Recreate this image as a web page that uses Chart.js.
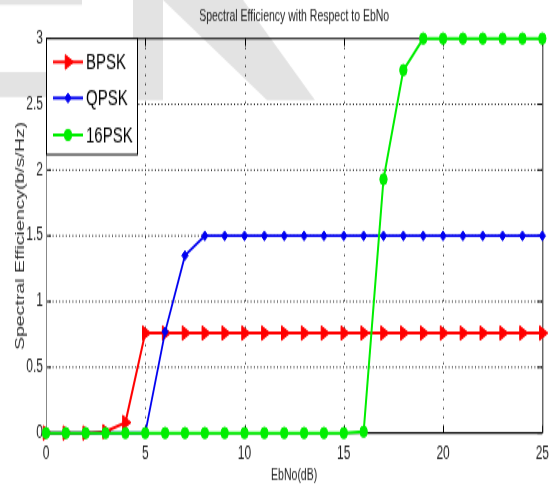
<!DOCTYPE html>
<html><head><meta charset="utf-8">
<script src="https://cdn.jsdelivr.net/npm/chart.js@4.4.0/dist/chart.umd.min.js"></script>
<style>
html,body{margin:0;padding:0;background:#fff;overflow:hidden;width:556px;height:486px}
#wrap{width:556px;height:486px;position:relative;overflow:hidden;background:#fff}
canvas{position:absolute;left:0;top:0;width:556px;height:324px;transform:scaleY(1.5);transform-origin:0 0}
</style></head><body><div id="wrap"><canvas id="c" width="556" height="324"></canvas></div>
<script>
// ---- data ----
const ebno   = [0,1,2,3,4,5,6,7,8,9,10,11,12,13,14,15,16,17,18,19,20,21,22,23,24,25];
const bpsk   = [0,0,0,0.01,0.08,0.76,0.76,0.76,0.76,0.76,0.76,0.76,0.76,0.76,0.76,0.76,0.76,0.76,0.76,0.76,0.76,0.76,0.76,0.76,0.76,0.76];
const qpsk   = [0,0,0,0,0,0,0.77,1.35,1.5,1.5,1.5,1.5,1.5,1.5,1.5,1.5,1.5,1.5,1.5,1.5,1.5,1.5,1.5,1.5,1.5,1.5];
const psk16  = [0,0,0,0,0,0,0,0,0,0,0,0,0,0,0,0,0.01,1.93,2.76,3,3,3,3,3,3,3];
const seriesNames = ['BPSK','QPSK','16PSK'];
const xTickValues = [0,5,10,15,20,25];
const yTickValues = [0,0.5,1,1.5,2,2.5,3];
const xTickLabels = ['0','5','10','15','20','25'];
const yTickLabels = ['0','0.5','1','1.5','2','2.5','3'];
const titleText = 'Spectral Efficiency with Respect to EbNo';
const xTitle = 'EbNo(dB)';
const yTitle = 'Spectral Efficiency(b/s/Hz)';

// ---- styling ----
const SY = 1.5; // vertical stretch of the reference figure
const FONT = '"Liberation Sans", Arial, sans-serif';
const colors = ['#ff0000','#0000f0','#00ee00'];
const styles = [
  {pointStyle:'triangle', rotation:90, radius:5.5},
  {pointStyle:'rectRot', rotation:0, radius:3.2},
  {pointStyle:'circle', rotation:0, radius:3.7}
];

const toXY = (xs, ys) => xs.map((x,i)=>({x:x, y:ys[i]}));
const seriesData = [bpsk, qpsk, psk16];

const datasets = seriesData.map((ys,i)=>({
  label: seriesNames[i],
  data: toXY(ebno, ys),
  borderColor: colors[i],
  backgroundColor: colors[i],
  borderWidth: i===1 ? 1.8 : 2,
  pointStyle: styles[i].pointStyle,
  pointRotation: styles[i].rotation,
  pointRadius: styles[i].radius,
  pointBackgroundColor: colors[i],
  pointBorderColor: colors[i],
  pointBorderWidth: 1,
  tension: 0,
  clip: false,
  order: 2 - i
}));

const watermark = {
  id:'watermark',
  beforeDraw(chart){
    const c = chart.ctx;
    c.save();
    c.fillStyle = '#e3e3e3';
    const polys = [
      [[0,0],[82,0],[82,5],[0,5]],
      [[0,72],[95,72],[95,97],[0,97]],
      [[133,0],[163,0],[163,100],[133,100]],
      [[163,0],[243,0],[315,100],[267,100]]
    ];
    polys.forEach(p=>{
      c.beginPath();
      p.forEach((pt,k)=>{ const y = pt[1]/SY; if(k===0) c.moveTo(pt[0],y); else c.lineTo(pt[0],y); });
      c.closePath(); c.fill();
    });
    c.restore();
  }
};

const frame = {
  id:'frame',
  beforeDatasetsDraw(chart){
    const c = chart.ctx, a = chart.chartArea;
    const xs = chart.scales.x, ys = chart.scales.y;
    c.save();
    // dotted grid
    c.strokeStyle = '#000'; c.lineWidth = 1;
    c.setLineDash([1,5]);
    xTickValues.forEach(v=>{
      const px = Math.round(xs.getPixelForValue(v))+0.5;
      if (px <= a.left+1 || px >= a.right-1) return;
      c.beginPath(); c.moveTo(px,a.top); c.lineTo(px,a.bottom); c.stroke();
    });
    c.setLineDash([1,2.3]);
    yTickValues.forEach(v=>{
      const py = ys.getPixelForValue(v);
      if (py <= a.top+1 || py >= a.bottom-1) return;
      c.beginPath(); c.moveTo(a.left,py); c.lineTo(a.right,py); c.stroke();
    });
    c.setLineDash([]);
    // inward ticks
    c.strokeStyle = '#000'; c.lineWidth = 1;
    xTickValues.forEach(v=>{
      const px = Math.round(xs.getPixelForValue(v))+0.5;
      c.beginPath(); c.moveTo(px,a.bottom); c.lineTo(px,a.bottom-5); c.stroke();
      c.beginPath(); c.moveTo(px,a.top); c.lineTo(px,a.top+5); c.stroke();
    });
    yTickValues.forEach(v=>{
      const py = ys.getPixelForValue(v);
      c.beginPath(); c.moveTo(a.left,py); c.lineTo(a.left+5,py); c.stroke();
      c.beginPath(); c.moveTo(a.right,py); c.lineTo(a.right-5,py); c.stroke();
    });
    // box
    c.lineWidth = 1.1; c.strokeStyle = '#000';
    c.beginPath(); c.moveTo(a.left,a.top); c.lineTo(a.right,a.top); c.stroke();
    c.lineWidth = 1.4;
    c.beginPath(); c.moveTo(a.left,a.bottom); c.lineTo(a.right,a.bottom); c.stroke();
    c.lineWidth = 1; c.strokeStyle = '#222';
    c.beginPath(); c.moveTo(a.right+0.5,a.top); c.lineTo(a.right+0.5,a.bottom); c.stroke();
    c.strokeStyle = '#888';
    c.beginPath(); c.moveTo(a.left+0.5,a.top); c.lineTo(a.left+0.5,a.bottom); c.stroke();
    c.restore();
  }
};

const legendBox = {
  id:'legendBox',
  afterDraw(chart){
    const c = chart.ctx, a = chart.chartArea;
    const x0 = a.left, y0 = a.top, w = 91, h = 116/SY;
    c.save();
    c.fillStyle = '#fff';
    c.fillRect(x0,y0,w,h);
    c.strokeStyle = '#000'; c.lineWidth = 1;
    c.strokeRect(x0+0.5,y0,w,h);
    const rowsY = [62/SY, 98/SY, 135/SY];
    chart.data.datasets.forEach((ds,i)=>{
      const y = rowsY[i];
      c.strokeStyle = ds.borderColor; c.lineWidth = 2;
      c.beginPath(); c.moveTo(x0+7,y); c.lineTo(x0+37,y); c.stroke();
      c.fillStyle = ds.backgroundColor; c.strokeStyle = ds.borderColor; c.lineWidth = 1;
      if (Chart.helpers && Chart.helpers.drawPoint) {
        Chart.helpers.drawPoint(c, {pointStyle: ds.pointStyle, rotation: ds.pointRotation, radius: ds.pointRadius, borderWidth: 1}, x0+22, y);
      }
      c.fillStyle = '#000';
      c.font = '15px ' + FONT;
      c.textBaseline = 'middle'; c.textAlign = 'left';
      c.fillText(ds.label, x0+40, y+0.5);
    });
    c.restore();
  }
};

new Chart(document.getElementById('c'), {
  type:'line',
  data:{ datasets },
  plugins:[watermark, frame, legendBox],
  options:{
    responsive:false,
    animation:false,
    devicePixelRatio:1,
    layout:{padding:{left:0,right:10,top:0,bottom:0}},
    plugins:{
      legend:{display:false},
      tooltip:{enabled:false},
      title:{display:true, text:titleText, fullSize:false, color:'#222',
             font:{family:FONT, size:10.5, weight:'normal'}, padding:{top:5,bottom:8.1}}
    },
    scales:{
      x:{type:'linear', min:0, max:25,
         afterBuildTicks: s => { s.ticks = xTickValues.map(v=>({value:v})); },
         afterFit: s => { s.height = 324 - 433/SY; },
         ticks:{padding:7, color:'#222', font:{family:FONT,size:12}, maxRotation:0, autoSkip:false,
                callback: (v) => { const k = xTickValues.indexOf(v); return k >= 0 ? xTickLabels[k] : ''; }},
         grid:{display:false, drawTicks:false},
         border:{display:false},
         title:{display:true, text:xTitle, color:'#222', font:{family:FONT,size:10.5}, padding:{top:0,bottom:1}}
      },
      y:{type:'linear', min:0, max:3,
         afterBuildTicks: s => { s.ticks = yTickValues.map(v=>({value:v})); },
         afterFit: s => { s.width = 46; },
         ticks:{padding:3, color:'#222', font:{family:FONT,size:12}, autoSkip:false,
                callback: (v) => { const k = yTickValues.indexOf(v); return k >= 0 ? yTickLabels[k] : ''; }},
         grid:{display:false, drawTicks:false},
         border:{display:false},
         title:{display:true, text:yTitle, color:'#333', font:{family:FONT,size:13}, padding:{top:12.2,bottom:0}}
      }
    }
  }
});
</script></body></html>
